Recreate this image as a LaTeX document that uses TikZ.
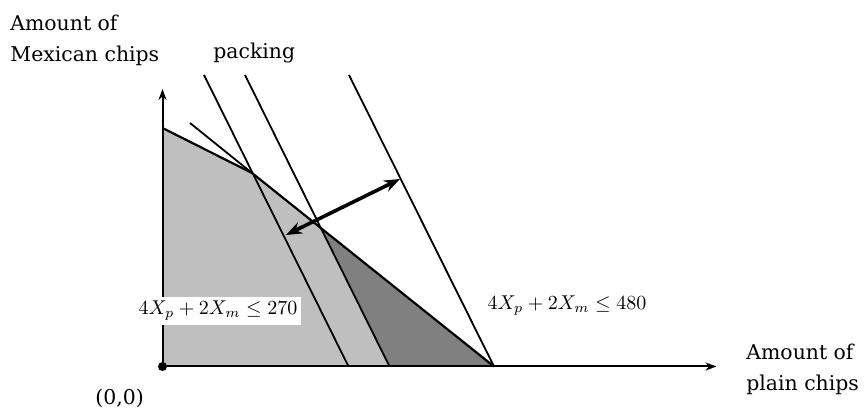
\documentclass[tikz,border=0pt]{standalone}
\usepackage{fontspec}
\setmainfont{DejaVu Serif}
\usetikzlibrary{arrows.meta}
\definecolor{lightregion}{gray}{0.75}
\definecolor{darkregion}{gray}{0.5}
\tikzset{
  axisline/.style={line width=1pt,-{Stealth[length=5.5pt,width=4pt]}},
  edgeline/.style={line width=1.1pt},
  packline/.style={line width=0.9pt},
  bigarrow/.style={line width=1.8pt,{Stealth[length=8pt,width=6pt]}-{Stealth[length=8pt,width=6pt]}},
  lbl/.style={inner sep=0pt,font=\fontsize{10.2}{15.5}\selectfont,align=left},
  mathlbl/.style={font=\fontsize{10.3}{12}\selectfont},
}
\begin{document}
\begin{tikzpicture}[x=0.5pt,y=-0.5pt]
\useasboundingbox (0,0) rectangle (864,410);
% key points (pixel coordinates)
\coordinate (O) at (162.5,366.5);
\coordinate (Ytop) at (162.5,89);
\coordinate (Xend) at (716.5,366.5);
\coordinate (A) at (162.5,128);
\coordinate (K) at (252,173);
\coordinate (B) at (320,227.2);
\coordinate (C1) at (348.5,366.5);
\coordinate (C2) at (389.5,366.5);
\coordinate (D) at (494,366.5);
\coordinate (E) at (190,123);
\coordinate (T1) at (204,75);
\coordinate (T2) at (245,75);
\coordinate (T3) at (349,75);
\coordinate (R1) at (286,235);
\coordinate (R3) at (400,179);
% regions
\fill[lightregion] (O) -- (A) -- (K) -- (B) -- (C2) -- cycle;
\fill[darkregion] (B) -- (C2) -- (D) -- cycle;
% constraint boundary
\draw[edgeline] (A) -- (K) -- (D);
\draw[packline] (E) -- (K);
% packing lines
\draw[packline] (T1) -- (C1);
\draw[packline] (T2) -- (C2);
\draw[packline] (T3) -- (D);
% double arrow
\draw[bigarrow] (R1) -- (R3);
% axes
\draw[axisline] (O) -- (Ytop);
\draw[axisline] (O) -- (Xend);
% labels
\node[mathlbl,fill=white,inner xsep=2pt,inner ysep=2pt,anchor=base] (L270) at (218,315) {$4X_p + 2X_m \le 270$};
\node[mathlbl,inner sep=1pt,anchor=base] (L480) at (567,310) {$4X_p + 2X_m \le 480$};
\node[lbl,anchor=north west] (ylab) at (10,15) {Amount of\\Mexican chips};
\node[lbl,anchor=base west] (pack) at (213,59) {packing};
\node[lbl,anchor=north west] (xlab) at (746,344) {Amount of\\plain chips};
\node[lbl,anchor=base west] (orig) at (95,405) {(0,0)};
\fill (O) circle[radius=4.5];
\end{tikzpicture}
\end{document}
